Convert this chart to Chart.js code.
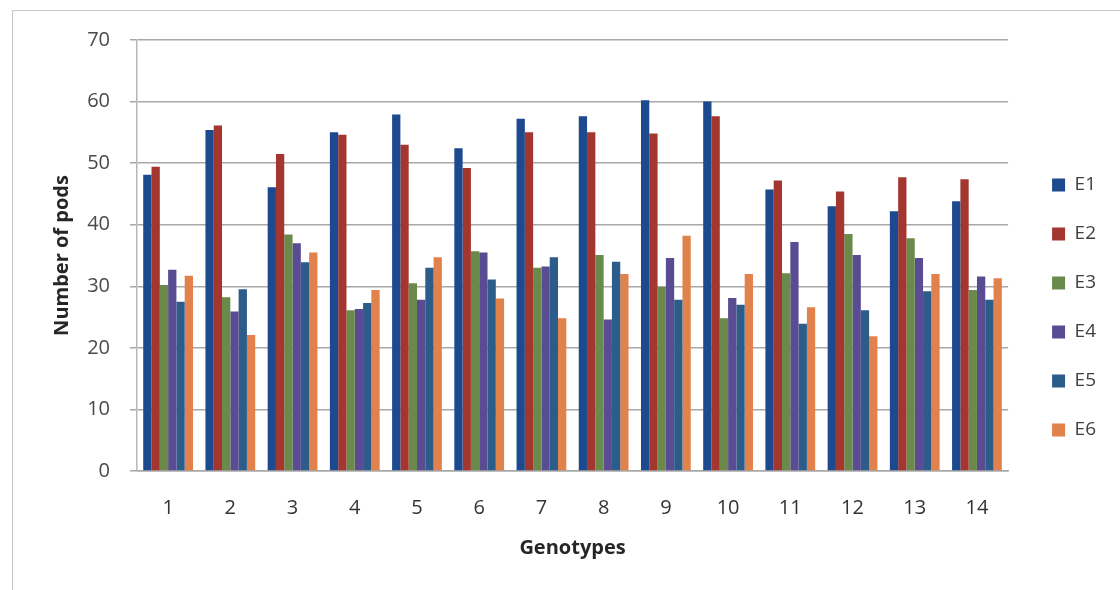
<!DOCTYPE html>
<html><head><meta charset="utf-8">
<script src="https://cdn.jsdelivr.net/npm/chart.js@4/dist/chart.umd.min.js"></script>
<style>
html,body{margin:0;padding:0;background:#fff;}
#wrap{position:relative;width:1120px;height:590px;overflow:hidden;}
#frame{position:absolute;left:12px;top:10px;width:1200px;height:700px;border-left:1.5px solid #c8c8c8;border-top:1.5px solid #c8c8c8;}
canvas{position:absolute;left:0;top:0;}
</style></head>
<body><div id="wrap"><div id="frame"></div><canvas id="c" width="1120" height="590"></canvas></div>
<script>
const categories = ['1','2','3','4','5','6','7','8','9','10','11','12','13','14'];
const seriesNames = ['E1','E2','E3','E4','E5','E6'];
const E1 = [48.1, 55.4, 46.1, 55.0, 57.9, 52.4, 57.2, 57.6, 60.2, 60.0, 45.7, 43.0, 42.2, 43.8];
const E2 = [49.4, 56.1, 51.5, 54.6, 53.0, 49.2, 55.0, 55.0, 54.8, 57.6, 47.2, 45.4, 47.7, 47.4];
const E3 = [30.2, 28.2, 38.4, 26.1, 30.5, 35.7, 33.0, 35.1, 29.9, 24.8, 32.1, 38.5, 37.8, 29.4];
const E4 = [32.7, 25.9, 37.0, 26.3, 27.8, 35.5, 33.2, 24.6, 34.6, 28.1, 37.2, 35.1, 34.6, 31.6];
const E5 = [27.5, 29.5, 33.9, 27.3, 33.0, 31.1, 34.7, 34.0, 27.8, 27.0, 23.9, 26.1, 29.2, 27.8];
const E6 = [31.7, 22.1, 35.5, 29.4, 34.7, 28.0, 24.8, 32.0, 38.2, 32.0, 26.6, 21.9, 32.0, 31.3];
const seriesColors = ['#1d4a8e', '#a3372f', '#6a8a4b', '#5a4c93', '#2c5d8a', '#e1824c'];
const yMin = 0, yMax = 70, yStep = 10;
const yTitle = 'Number of pods';
const xTitle = 'Genotypes';

const FONT = "'Open Sans', 'Noto Sans', sans-serif";
const values = [E1, E2, E3, E4, E5, E6];

const legendPlace = {
  id: 'legendPlace',
  afterLayout(chart) {
    const lg = chart.legend;
    if (!lg) return;
    const dx = (chart.chartArea.right + 14) - lg.left;
    lg.left += dx; lg.right += dx;
    lg.top = chart.chartArea.top + 105.5;
  }
};

new Chart(document.getElementById('c'), {
  type: 'bar',
  data: {
    labels: categories,
    datasets: seriesNames.map((n, i) => ({
      label: n,
      data: values[i],
      backgroundColor: seriesColors[i],
      borderWidth: 0,
      categoryPercentage: 0.8,
      barPercentage: 1.0
    }))
  },
  plugins: [legendPlace],
  options: {
    responsive: false,
    animation: false,
    devicePixelRatio: 1,
    layout: { padding: { left: 40, top: 40, right: 28, bottom: 13 } },
    plugins: {
      tooltip: { enabled: false },
      legend: {
        position: 'right',
        align: 'start',
        labels: {
          boxWidth: 13,
          boxHeight: 13,
          padding: 30,
          color: '#404040',
          font: { family: FONT, size: 19 }
        }
      }
    },
    scales: {
      x: {
        afterFit(scale) { scale.height = 106; },
        grid: { display: false },
        border: { display: true, color: '#a8a8a8', width: 1.5 },
        ticks: { color: '#333333', padding: 17, maxRotation: 0, font: { family: FONT, size: 20 } },
        title: { display: true, text: xTitle, color: '#262626', padding: { top: 17, bottom: 17 },
                 font: { family: FONT, size: 20, weight: 'bold' } }
      },
      y: {
        min: yMin, max: yMax,
        afterFit(scale) { scale.width = 97; },
        grid: { color: '#a8a8a8', lineWidth: 1.5, drawTicks: true, tickLength: 7, tickColor: '#a8a8a8' },
        border: { display: true, color: '#b8b8b8', width: 1.5 },
        ticks: { stepSize: yStep, color: '#4a4a4a', padding: 20, font: { family: FONT, size: 20 } },
        title: { display: true, text: yTitle, color: '#262626', padding: { top: 10, bottom: 10 },
                 font: { family: FONT, size: 20, weight: 'bold' } }
      }
    }
  }
});
</script>
</body></html>
